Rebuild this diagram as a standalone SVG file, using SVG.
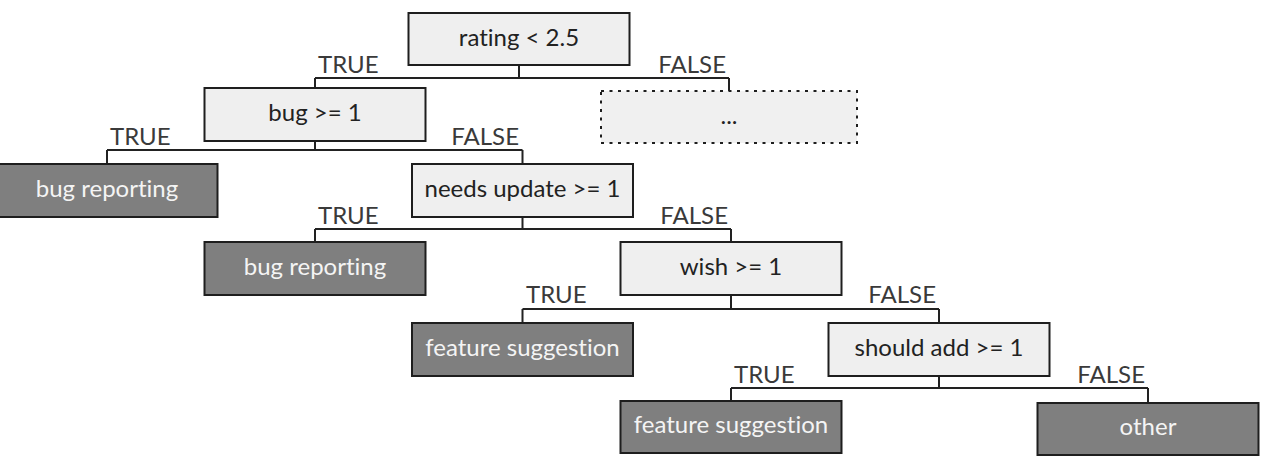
<svg xmlns="http://www.w3.org/2000/svg" width="1262" height="461" viewBox="0 0 1262 461">
<style>
.dec{fill:#efefef;stroke:#1e1e1e;stroke-width:2}
.leaf{fill:#7f7f7f;stroke:#1e1e1e;stroke-width:2}
.dots{fill:#f0f0f0;stroke:#1e1e1e;stroke-width:2;stroke-dasharray:3 5.5}
text{font-variant-ligatures:none;font-feature-settings:"liga" 0}
.t{font-family:Lato,"Open Sans","Liberation Sans",sans-serif;font-size:24px;text-anchor:middle}
.td{fill:#222}
.tl{fill:#f4f4f4}
.lab{font-family:Lato,"Open Sans","Liberation Sans",sans-serif;font-size:24px;fill:#3a3a3a}
.s{text-anchor:start}
.e{text-anchor:end}
.c{fill:none;stroke:#222;stroke-width:2}
</style>
<rect width="1262" height="461" fill="#ffffff"/>
<g id="connectors">
<path class="c" d="M519 65V78M315 78H729M315 78V88M729 78V91"/>
<path class="c" d="M315 141V150M107 150H522.5M107 150V164M522.5 150V164"/>
<path class="c" d="M522.5 217V229M315 229H731M315 229V242M731 229V242"/>
<path class="c" d="M731 295V309M522.5 309H939M522.5 309V323M939 309V323"/>
<path class="c" d="M939 376V388M731 388H1148M731 388V401M1148 388V403"/>
<text class="lab s" x="318" y="73">TRUE</text>
<text class="lab e" x="726" y="73">FALSE</text>
<text class="lab s" x="110" y="145">TRUE</text>
<text class="lab e" x="519" y="145">FALSE</text>
<text class="lab s" x="318" y="224">TRUE</text>
<text class="lab e" x="728" y="224">FALSE</text>
<text class="lab s" x="526" y="303">TRUE</text>
<text class="lab e" x="936" y="303">FALSE</text>
<text class="lab s" x="734" y="383">TRUE</text>
<text class="lab e" x="1145" y="383">FALSE</text>
</g>
<g id="n-rating">
<rect class="dec" x="408.5" y="13" width="221" height="52"/>
<text class="t td" x="519" y="46">rating &lt; 2.5</text>
</g>
<g id="n-bug">
<rect class="dec" x="204.5" y="88" width="221" height="53"/>
<text class="t td" x="315" y="121">bug &gt;= 1</text>
</g>
<g id="n-more">
<rect class="dots" x="601" y="91" width="256" height="52"/>
<text class="t td" x="729" y="124">...</text>
</g>
<g id="leaf-bug1">
<rect class="leaf" x="-3.5" y="164" width="221" height="53"/>
<text class="t tl" x="107" y="197">bug reporting</text>
</g>
<g id="n-needs">
<rect class="dec" x="412" y="164" width="221" height="53"/>
<text class="t td" x="522.5" y="197">needs update &gt;= 1</text>
</g>
<g id="leaf-bug2">
<rect class="leaf" x="204.5" y="242" width="221" height="53"/>
<text class="t tl" x="315" y="275">bug reporting</text>
</g>
<g id="n-wish">
<rect class="dec" x="620.5" y="242" width="221" height="53"/>
<text class="t td" x="731" y="275">wish &gt;= 1</text>
</g>
<g id="leaf-feat1">
<rect class="leaf" x="412" y="323" width="221" height="53"/>
<text class="t tl" x="522.5" y="356">feature suggestion</text>
</g>
<g id="n-should">
<rect class="dec" x="828.5" y="323" width="221" height="53"/>
<text class="t td" x="939" y="356">should add &gt;= 1</text>
</g>
<g id="leaf-feat2">
<rect class="leaf" x="620.5" y="401" width="221" height="52"/>
<text class="t tl" x="731" y="433">feature suggestion</text>
</g>
<g id="leaf-other">
<rect class="leaf" x="1037.5" y="403" width="221" height="52"/>
<text class="t tl" x="1148" y="435">other</text>
</g>
</svg>
